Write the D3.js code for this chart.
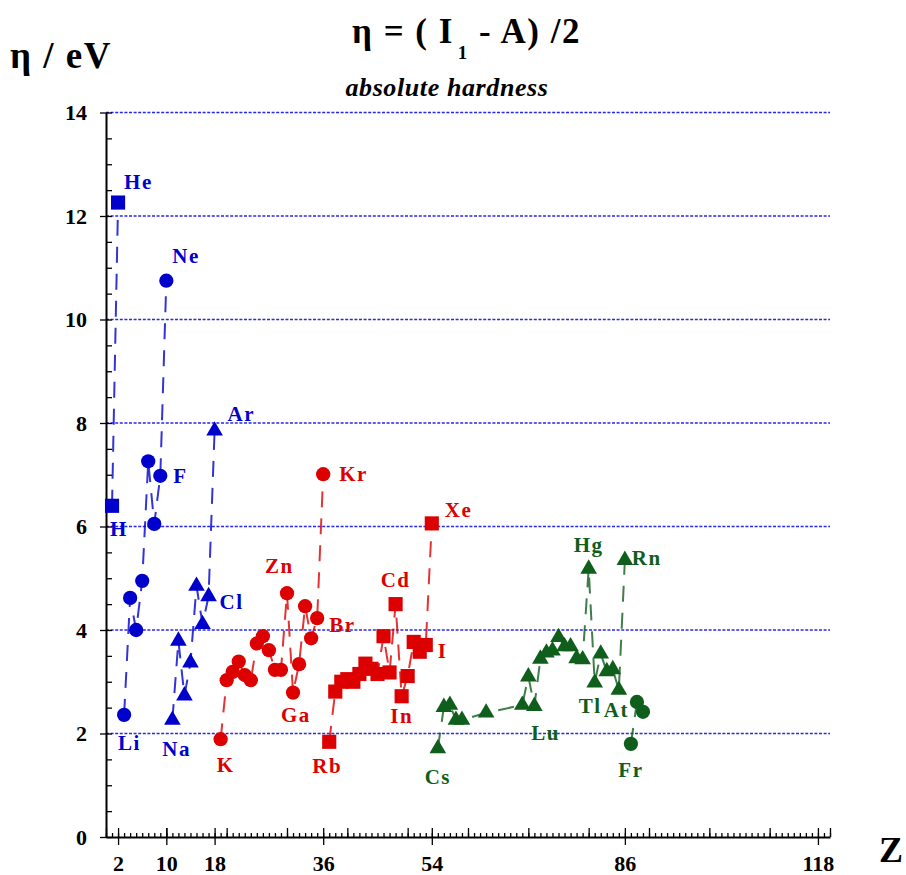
<!DOCTYPE html>
<html>
<head>
<meta charset="utf-8">
<script src="https://cdn.jsdelivr.net/npm/d3@7"></script>
<style>
  body { margin: 0; background: #fff; }
  svg text { font-family: "Liberation Serif", "Times New Roman", serif; font-weight: bold; }
</style>
</head>
<body>
<div id="chart"></div>
<script>
// absolute hardness eta = (I1 - A)/2, one array pair per period
const p1Z = [1, 2];
const p1Eta = [6.40, 12.26];
const p2Z = [3, 4, 5, 6, 7, 8, 9, 10];
const p2Eta = [2.36, 4.62, 4.00, 4.95, 7.26, 6.05, 6.98, 10.75];
const p3Z = [11, 12, 13, 14, 15, 16, 17, 18];
const p3Eta = [2.26, 3.79, 2.73, 3.37, 4.85, 4.11, 4.65, 7.85];
const p4Z = [19, 20, 21, 22, 23, 24, 25, 26, 27, 28, 29, 30, 31, 32, 33, 34, 35, 36];
const p4Eta = [1.89, 3.03, 3.19, 3.39, 3.13, 3.03, 3.74, 3.88, 3.61, 3.23, 3.23, 4.71, 2.79, 3.34, 4.46, 3.84, 4.23, 7.01];
const p5Z = [37, 38, 39, 40, 41, 42, 43, 44, 45, 46, 47, 48, 49, 50, 51, 52, 53, 54];
const p5Eta = [1.84, 2.81, 3.00, 3.05, 3.00, 3.15, 3.35, 3.25, 3.15, 3.88, 3.18, 4.50, 2.72, 3.11, 3.77, 3.58, 3.71, 6.06];
const p6Z = [55, 56, 57, 58, 59, 63, 69, 70, 71, 72, 73, 74, 75, 76, 77, 78, 79, 80, 81, 82, 83, 84, 85, 86];
const p6Eta = [1.71, 2.51, 2.55, 2.26, 2.26, 2.40, 2.55, 3.10, 2.53, 3.44, 3.56, 3.60, 3.86, 3.68, 3.68, 3.45, 3.43, 5.18, 2.98, 3.54, 3.20, 3.24, 2.84, 5.35];
const p7Z = [87, 88, 89];
const p7Eta = [1.80, 2.61, 2.42];

const labelled = ["H", "He", "Li", "F", "Ne", "Na", "Cl", "Ar", "K", "Zn", "Ga", "Br", "Kr",
  "Rb", "Cd", "In", "I", "Xe", "Cs", "Lu", "Hg", "Tl", "At", "Rn", "Fr"];
const labelZ = [1, 2, 3, 9, 10, 11, 17, 18, 19, 30, 31, 35, 36, 37, 48, 49, 53, 54, 55, 71, 80, 81, 85, 86, 87];

const yTicks = [0, 2, 4, 6, 8, 10, 12, 14];
const xTicks = [2, 10, 18, 36, 54, 86, 118];

const blue = "#0000cc", red = "#dd0000", green = "#0f5e1c";

const periods = [
  { z: p1Z, eta: p1Eta, color: blue, shape: d3.symbolSquare },
  { z: p2Z, eta: p2Eta, color: blue, shape: d3.symbolCircle },
  { z: p3Z, eta: p3Eta, color: blue, shape: d3.symbolTriangle },
  { z: p4Z, eta: p4Eta, color: red, shape: d3.symbolCircle },
  { z: p5Z, eta: p5Eta, color: red, shape: d3.symbolSquare },
  { z: p6Z, eta: p6Eta, color: green, shape: d3.symbolTriangle },
  { z: p7Z, eta: p7Eta, color: green, shape: d3.symbolCircle }
];

// where each label sits against its point: [anchor, dx, dy]
const labelPlace = {
  H: ["start", -2, 30], He: ["start", 6, -14], Li: ["start", -6, 35], F: ["start", 13, 7],
  Ne: ["start", 6, -18], Na: ["start", -10, 36], Cl: ["start", 11, 13], Ar: ["start", 13, -10],
  K: ["start", -4, 33], Zn: ["start", -22, -20], Ga: ["start", -12, 29], Br: ["start", 12, 14],
  Kr: ["start", 16, 7], Rb: ["start", -17, 31], Cd: ["middle", 0, -17], In: ["middle", 0, 27],
  I: ["start", 12, 13], Xe: ["start", 13, -6], Cs: ["middle", 0, 35], Lu: ["start", -3, 34],
  Hg: ["middle", 0, -17], Tl: ["start", -16, 30], At: ["start", -15, 27], Rn: ["start", 7, 5],
  Fr: ["middle", 0, 33]
};

const width = 906, height = 875;
const svg = d3.select("#chart").append("svg")
  .attr("width", width).attr("height", height);

const x = d3.scaleLinear().domain([0, 120]).range([106, 830]);
const y = d3.scaleLinear().domain([0, 14]).range([837, 112.5]);

// dotted grid
svg.append("g")
  .selectAll("line")
  .data(yTicks.filter(d => d > 0))
  .join("line")
  .attr("x1", x(0)).attr("x2", x(120))
  .attr("y1", d => y(d)).attr("y2", d => y(d))
  .attr("stroke", "#2a2ae6")
  .attr("stroke-width", 1.6)
  .attr("stroke-dasharray", "3,1.6");

// y axis: labelled ticks outward, half-unit ticks inward
svg.append("g")
  .attr("transform", `translate(${x(0)},0)`)
  .call(d3.axisLeft(y).tickValues(yTicks).tickSize(6).tickSizeOuter(0).tickPadding(13))
  .call(g => g.selectAll("text").style("font-size", "22px").attr("fill", "#000"));
svg.append("g")
  .attr("transform", `translate(${x(0)},0)`)
  .call(d3.axisRight(y).tickValues(d3.range(0, 14.01, 0.5)).tickSize(6).tickFormat(""))
  .call(g => g.select(".domain").remove());

// x axis: labelled ticks crossing, tens taller, units short
const xBase = y(0);
svg.append("g")
  .attr("transform", `translate(0,${xBase})`)
  .call(d3.axisBottom(x).tickValues(xTicks).tickSize(8).tickSizeOuter(0).tickPadding(10))
  .call(g => g.selectAll("text").style("font-size", "22px").attr("fill", "#000"));
svg.append("g")
  .attr("transform", `translate(0,${xBase})`)
  .call(d3.axisTop(x).tickValues(d3.range(0, 121, 1)).tickSize(4).tickFormat(""))
  .call(g => g.select(".domain").remove());
svg.append("g")
  .attr("transform", `translate(0,${xBase})`)
  .call(d3.axisTop(x).tickValues(d3.range(0, 121, 10).concat(xTicks)).tickSize(9).tickFormat(""))
  .call(g => g.select(".domain").remove());
svg.selectAll(".domain").attr("stroke-width", 2);
svg.selectAll(".tick line").attr("stroke-width", 1.3);

// dashed lines inside each period, then the markers
const line = d3.line().x(d => x(d[0])).y(d => y(d[1]));
periods.forEach(p => {
  const pts = p.z.map((z, i) => [z, p.eta[i]]);
  svg.append("path")
    .attr("d", line(pts))
    .attr("fill", "none")
    .attr("stroke", p.color)
    .attr("stroke-width", 2)
    .attr("stroke-opacity", 0.8)
    .attr("stroke-dasharray", "16,11");
});
periods.forEach(p => {
  const size = p.shape === d3.symbolSquare ? 200 : p.shape === d3.symbolCircle ? 160 : 120;
  svg.append("g")
    .selectAll("path")
    .data(p.z.map((z, i) => [z, p.eta[i]]))
    .join("path")
    .attr("transform", d => `translate(${x(d[0])},${y(d[1])})`)
    .attr("d", d3.symbol(p.shape, size))
    .attr("fill", p.color);
});

// element labels
const allZ = periods.flatMap(p => p.z);
const allEta = periods.flatMap(p => p.eta);
const allColor = periods.flatMap(p => p.z.map(() => p.color));
svg.append("g")
  .selectAll("text")
  .data(labelled)
  .join("text")
  .each(function (name, i) {
    const k = allZ.indexOf(labelZ[i]);
    const [anchor, dx, dy] = labelPlace[name];
    d3.select(this)
      .attr("x", x(allZ[k]) + dx)
      .attr("y", y(allEta[k]) + dy)
      .attr("text-anchor", anchor)
      .attr("fill", allColor[k]);
  })
  .style("font-size", "21px")
  .style("letter-spacing", "1.5px")
  .text(d => d);

// titles
const title = svg.append("text")
  .attr("x", 352).attr("y", 43)
  .style("font-size", "35px")
  .style("letter-spacing", "1.5px");
title.append("tspan").text("η = ( I");
title.append("tspan").attr("dx", 4).attr("dy", 16).style("font-size", "19px").text("1");
title.append("tspan").attr("dy", -16).text("  - A) /2");

svg.append("text")
  .attr("x", 447).attr("y", 96)
  .attr("text-anchor", "middle")
  .style("font-size", "26px")
  .style("letter-spacing", "0.6px")
  .style("font-style", "italic")
  .text("absolute hardness");

svg.append("text")
  .attr("x", 10).attr("y", 68)
  .style("font-size", "37px")
  .style("letter-spacing", "1.5px")
  .text("η / eV");

svg.append("text")
  .attr("x", 879).attr("y", 862)
  .style("font-size", "36px")
  .text("Z");
</script>
</body>
</html>
